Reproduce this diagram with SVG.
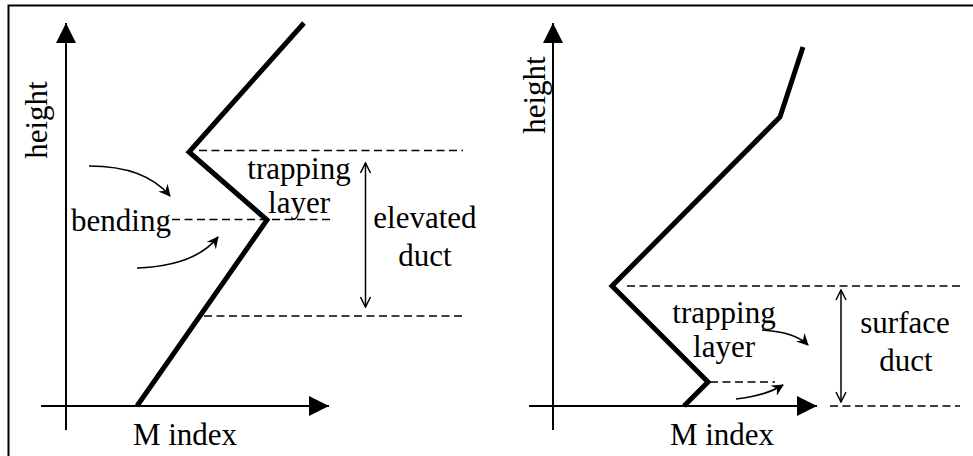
<svg xmlns="http://www.w3.org/2000/svg" width="973" height="456" viewBox="0 0 973 456">
<defs>
<marker id="tri" viewBox="0 0 20 20" refX="20" refY="10" markerWidth="20" markerHeight="20" markerUnits="userSpaceOnUse" orient="auto">
<path d="M0,0 L20,10 L0,20 Z" fill="#000"/>
</marker>
<marker id="open" viewBox="0 0 12 12" refX="11" refY="6" markerWidth="12" markerHeight="12" markerUnits="userSpaceOnUse" orient="auto-start-reverse">
<path d="M1,1 L11,6 L1,11" fill="none" stroke="#000" stroke-width="1.5"/>
</marker>
<marker id="barb" viewBox="0 0 12 12" refX="11" refY="6" markerWidth="12" markerHeight="12" markerUnits="userSpaceOnUse" orient="auto">
<path d="M0,0 L12,6 L0,12 L4,6 Z" fill="#000"/>
</marker>
</defs>
<style>
.axis{stroke:#000;stroke-width:2;fill:none}
.prof{stroke:#000;stroke-width:5;fill:none;stroke-linejoin:miter}
.dash{stroke:#000;stroke-width:1.6;stroke-dasharray:8 4.5;fill:none}
.dbl{stroke:#000;stroke-width:1.5;fill:none}
.bend{stroke:#000;stroke-width:1.6;fill:none}
.lbl{font-size:31px;fill:#000}
</style>
<rect width="973" height="456" fill="#fff"/>
<path d="M8.5,456 L8.5,5.5 L973,5.5" class="axis"/>

<g font-family="'Liberation Serif', 'DejaVu Serif', serif">
<g id="left-axes">
<line x1="66" y1="430" x2="66" y2="23" class="axis" marker-end="url(#tri)"/>
<line x1="41" y1="406" x2="329" y2="406" class="axis" marker-end="url(#tri)"/>
<text class="lbl" x="47" y="120" text-anchor="middle" transform="rotate(-90 47 120)">height</text>
<text class="lbl" x="185" y="445" text-anchor="middle">M index</text>
</g>
<g id="left-profile">
<polyline points="137,406 267,220 189,152 304,23" class="prof"/>
</g>
<g id="left-connectors">
<line x1="199" y1="150.5" x2="463" y2="150.5" class="dash"/>
<line x1="172" y1="219.5" x2="333" y2="219.5" class="dash"/>
<line x1="204" y1="316" x2="463" y2="316" class="dash"/>
<line x1="365.5" y1="163" x2="365.5" y2="307" class="dbl" marker-start="url(#open)" marker-end="url(#open)"/>
<path d="M89,166 Q145,166 170,196" class="bend" marker-end="url(#barb)"/>
<path d="M137,268 Q195,266 218,237" class="bend" marker-end="url(#barb)"/>
</g>
<g id="left-labels">
<text class="lbl" x="121" y="231" text-anchor="middle">bending</text>
<text class="lbl" x="299" y="179" text-anchor="middle">trapping</text>
<text class="lbl" x="299" y="213" text-anchor="middle">layer</text>
<text class="lbl" x="425" y="228" text-anchor="middle">elevated</text>
<text class="lbl" x="425" y="266" text-anchor="middle">duct</text>
</g>

<g id="right-axes">
<line x1="553" y1="430" x2="553" y2="23" class="axis" marker-end="url(#tri)"/>
<line x1="529" y1="406" x2="817" y2="406" class="axis" marker-end="url(#tri)"/>
<text class="lbl" x="545" y="95" text-anchor="middle" transform="rotate(-90 545 95)">height</text>
<text class="lbl" x="722" y="445" text-anchor="middle">M index</text>
</g>
<g id="right-profile">
<polyline points="684,406 708,382 612,286 780,117 803,47" class="prof"/>
</g>
<g id="right-connectors">
<line x1="627" y1="286" x2="960" y2="286" class="dash"/>
<line x1="710" y1="382" x2="775" y2="382" class="dash"/>
<line x1="830" y1="406" x2="960" y2="406" class="dash"/>
<line x1="841" y1="290" x2="841" y2="402" class="dbl" marker-start="url(#open)" marker-end="url(#open)"/>
<path d="M762,330 Q795,332 808,345" class="bend" marker-end="url(#barb)"/>
<path d="M736,399 Q765,396 783,385" class="bend" marker-end="url(#barb)"/>
</g>
<g id="right-labels">
<text class="lbl" x="724" y="323" text-anchor="middle">trapping</text>
<text class="lbl" x="724" y="357" text-anchor="middle">layer</text>
<text class="lbl" x="905" y="333" text-anchor="middle">surface</text>
<text class="lbl" x="906" y="371" text-anchor="middle">duct</text>
</g>
</g>
</svg>
